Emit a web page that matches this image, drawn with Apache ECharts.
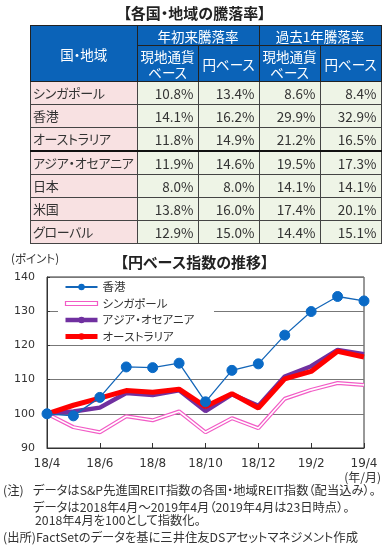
<!DOCTYPE html>
<html><head><meta charset="utf-8">
<script src="https://cdn.jsdelivr.net/npm/echarts@6/dist/echarts.min.js"></script>
<style>
html,body{margin:0;padding:0;background:#fff;width:389px;height:546px;overflow:hidden;}
body{position:relative;font-family:"Noto Sans CJK JP",sans-serif;font-feature-settings:"palt";}
#chart{position:absolute;left:0;top:0;width:389px;height:546px;}
.ttl{position:absolute;left:0;width:389px;top:3px;text-align:center;font-size:15px;font-weight:bold;color:#222;line-height:20px;}
#tbl{position:absolute;left:30px;top:25px;border-collapse:collapse;font-size:13.5px;table-layout:fixed;}
#tbl th{background:#0b63b8;color:#fff;font-weight:normal;border:1px solid #222;padding:0;text-align:center;line-height:16px;white-space:nowrap;overflow:hidden;}
#tbl td{border:1px solid #444;padding:0 3px;height:22px;line-height:22px;color:#333;white-space:nowrap;overflow:hidden;}
#tbl td.nm{background:#f8e1e2;text-align:left;padding-left:2px;font-size:13px;letter-spacing:-0.3px;}
#tbl td.v{background:#eef4e6;text-align:right;padding-right:4px;}
#tbl tr.sep td{border-bottom:2.5px solid #111;}
.notes{position:absolute;left:0;top:483px;font-size:12.3px;color:#333;line-height:15px;}
.notes div{white-space:nowrap;position:absolute;}
</style></head>
<body>
<div id="chart"></div>
<div class="ttl" id="tblTitle"></div>
<table id="tbl"></table>
<div class="notes" id="notes"></div>
<script>
// ---- table data ----
const tableTitle = '【各国・地域の騰落率】';
const regions = ['シンガポール','香港','オーストラリア','アジア・オセアニア','日本','米国','グローバル'];
const ytdLocal = [10.8,14.1,11.8,11.9,8.0,13.8,12.9];
const ytdYen   = [13.4,16.2,14.9,14.6,8.0,16.0,15.0];
const y1Local  = [8.6,29.9,21.2,19.5,14.1,17.4,14.4];
const y1Yen    = [8.4,32.9,16.5,17.3,14.1,20.1,15.1];

// ---- chart data ----
const chartTitle = '【円ベース指数の推移】';
const months = ['18/4','18/5','18/6','18/7','18/8','18/9','18/10','18/11','18/12','19/1','19/2','19/3','19/4'];
const hongKong  = [100,99.4,104.8,113.7,113.5,114.8,103.5,112.7,114.6,123.0,129.9,134.3,133.0];
const singapore = [100,96.1,94.6,99.3,98.1,100.7,94.6,98.7,95.8,104.4,107.0,109.0,108.4];
const asiaOce   = [100,100.7,101.8,106.1,105.5,106.9,100.8,105.7,102.3,110.9,113.9,118.7,117.4];
const australia = [100,102.5,104.6,106.8,106.3,107.2,102.1,105.9,101.7,110.2,112.4,118.3,116.6];

const notes = [
  ['(注)','データはS&P先進国REIT指数の各国・地域REIT指数（配当込み）。',33],
  ['','データは2018年4月～2019年4月（2019年4月は23日時点）。',33],
  ['','2018年4月を100として指数化。',35],
  ['(出所)','FactSetのデータを基に三井住友DSアセットマネジメント作成',36]
];

// build table
document.getElementById('tblTitle').textContent = tableTitle;
const colW = [104,61,61,61,61];
let html = '<colgroup>' + colW.map(w=>'<col style="width:'+w+'px">').join('') + '</colgroup>';
html += '<tr style="height:20px"><th rowspan="2">国・地域</th><th colspan="2">年初来騰落率</th><th colspan="2">過去1年騰落率</th></tr>';
html += '<tr style="height:36px"><th>現地通貨<br>ベース</th><th>円ベース</th><th>現地通貨<br>ベース</th><th>円ベース</th></tr>';
regions.forEach((r,i)=>{
  html += '<tr'+(i===2?' class="sep"':'')+'><td class="nm">'+r+'</td>' +
    [ytdLocal[i],ytdYen[i],y1Local[i],y1Yen[i]].map(v=>'<td class="v">'+v.toFixed(1)+'%</td>').join('') + '</tr>';
});
document.getElementById('tbl').innerHTML = html;

// notes
const noteTops = [0,16.5,30,46.5];
document.getElementById('notes').innerHTML = notes.map((n,i)=>
  '<div style="top:'+noteTops[i]+'px;left:3px">'+n[0]+'</div><div style="top:'+noteTops[i]+'px;left:'+n[2]+'px">'+n[1]+'</div>').join('');

// chart
const chart = echarts.init(document.getElementById('chart'), null, {renderer:'canvas'});
const numFont = 'DejaVu Sans';
const jpFont = 'Noto Sans CJK JP';
chart.setOption({
  animation:false,
  grid:{left:47,right:25,top:277,bottom:98,show:true,borderColor:'#333',borderWidth:1,backgroundColor:'transparent'},
  graphic:[
    {type:'text',left:'center',top:255,style:{text:chartTitle,font:'bold 15px "Noto Sans CJK JP"',fill:'#222',textAlign:'center'}},
    {type:'text',left:11,top:253,style:{text:'(ポイント)',font:'11.5px "Noto Sans CJK JP"',fill:'#333'}},
    {type:'text',right:8,top:471,style:{text:'(年/月)',font:'12px "Noto Sans CJK JP"',fill:'#333'}}
  ],
  legend:{
    orient:'vertical',left:58,top:279,padding:[2,8,2,5],backgroundColor:'#fff',
    itemWidth:32,itemHeight:8,itemGap:4.5,itemTextGap:4,
    textStyle:{fontFamily:jpFont,fontSize:11.5,color:'#333',lineHeight:12},
    data:[
      {name:'香港'},
      {name:'シンガポール',icon:'path://M0,0H40V5H0Z',itemStyle:{color:'#fff',borderColor:'#f25cc6',borderWidth:1.2}},
      {name:'アジア・オセアニア',lineStyle:{width:4.5}},
      {name:'オーストラリア',lineStyle:{width:5}}
    ]
  },
  xAxis:{
    type:'category',data:months,boundaryGap:false,
    axisLine:{show:true,lineStyle:{color:'#333',width:1}},
    axisTick:{show:true,inside:true,length:5,interval:1,lineStyle:{color:'#333'}},
    axisLabel:{interval:1,margin:10,fontFamily:numFont,fontSize:12,color:'#333'},
    splitLine:{show:false}
  },
  yAxis:{
    type:'value',min:90,max:140,interval:10,
    axisLine:{show:true,lineStyle:{color:'#333'}},
    axisTick:{show:true,inside:true,length:3,lineStyle:{color:'#333'}},
    axisLabel:{margin:12,fontFamily:numFont,fontSize:11,color:'#333'},
    splitLine:{show:true,lineStyle:{color:'#777',width:1}}
  },
  series:[
    {name:'シンガポール',type:'line',data:singapore,symbol:'none',z:2,
      lineStyle:{color:'#f25cc6',width:4},itemStyle:{color:'#f25cc6'}},
    {name:'sgInner',type:'line',data:singapore,symbol:'none',z:3,silent:true,
      lineStyle:{color:'#fff',width:1.6},itemStyle:{color:'#fff'}},
    {name:'アジア・オセアニア',type:'line',data:asiaOce,symbol:'none',z:4,
      lineStyle:{color:'#7030a0',width:4.5},itemStyle:{color:'#7030a0'}},
    {name:'オーストラリア',type:'line',data:australia,symbol:'none',z:5,
      lineStyle:{color:'#ff0000',width:5},itemStyle:{color:'#ff0000'}},
    {name:'香港',type:'line',data:hongKong,symbol:'circle',symbolSize:10,showSymbol:true,z:6,
      lineStyle:{color:'#1466b8',width:1.3},itemStyle:{color:'#0a6ac6',borderColor:'#0a6ac6'}}
  ]
});
</script>
</body></html>
